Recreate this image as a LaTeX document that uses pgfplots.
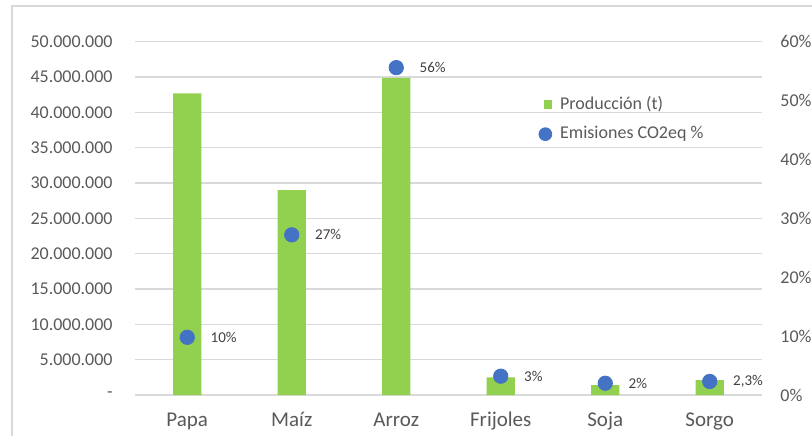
\documentclass[border=0pt]{standalone}
\usepackage{fontspec}
\setmainfont{Carlito}
\usepackage{pgfplots}
\pgfplotsset{compat=1.18}
\definecolor{barg}{HTML}{92D050}
\definecolor{dotb}{HTML}{4472C4}
\definecolor{gridc}{HTML}{D9D9D9}
\definecolor{tickc}{HTML}{595959}
\definecolor{lblc}{HTML}{404040}
\begin{document}
\begin{tikzpicture}
\path[use as bounding box] (0,0) rectangle (406pt,217.5pt);
\draw[gridc, line width=0.6pt] (6pt,-1pt) -- (6pt,214.5pt) -- (407pt,214.5pt);
\begin{axis}[
  at={(67.5pt,20pt)}, anchor=south west, scale only axis,
  width=313.5pt, height=176.65pt,
  xmin=-0.5, xmax=5.5, ymin=0, ymax=50,
  xtick={0,1,2,3,4,5},
  xticklabels={Papa,Maíz,Arroz,Frijoles,Soja,Sorgo},
  ytick={0,5,10,15,20,25,30,35,40,45,50},
  yticklabels={-,5.000.000,10.000.000,15.000.000,20.000.000,25.000.000,30.000.000,35.000.000,40.000.000,45.000.000,50.000.000},
  axis line style={draw=none}, tick style={draw=none},
  ymajorgrids, grid style={gridc, line width=0.6pt},
  xticklabel style={anchor=north, text height=7.3pt, text depth=2pt, yshift=-4.2pt, inner sep=0pt, font=\fontsize{10.5}{12}\selectfont, text=tickc},
  yticklabel style={anchor=east, inner sep=0pt, xshift=-11pt, font=\fontsize{9}{11}\selectfont, text=tickc},
  ybar, bar width=14.2pt,
]
\addplot[fill=barg, draw=none] coordinates {(0,42.7) (1,29.0) (2,44.9) (3,2.5) (4,1.4) (5,2.1)};
\end{axis}
\begin{axis}[
  at={(67.5pt,20pt)}, anchor=south west, scale only axis,
  width=313.5pt, height=176.65pt,
  xmin=-0.5, xmax=5.5, ymin=0, ymax=60,
  axis x line=none, axis y line*=right,
  ytick={0,10,20,30,40,50,60},
  yticklabels={0\%,10\%,20\%,30\%,40\%,50\%,60\%},
  axis line style={draw=none}, tick style={draw=none},
  yticklabel style={anchor=west, inner sep=0pt, xshift=9pt, font=\fontsize{9}{11}\selectfont, text=tickc},
  legend style={draw=none, fill=none, at={(0.643,0.858)}, anchor=north west, inner sep=0pt,
    font=\fontsize{9}{11}\selectfont, text=tickc, row sep=3pt,
    /tikz/every odd column/.append style={column sep=2pt}},
  legend cell align=left,
]
\addlegendimage{legend image code/.code={\fill[barg] (2.5pt,-2pt) rectangle (6pt,2pt);}}
\addlegendentry{Producción (t)}
\addplot[only marks, mark=*, mark size=3.6pt, mark options={fill=dotb, draw=dotb},
  nodes near coords, point meta=explicit symbolic,
  nodes near coords style={anchor=west, xshift=11.5pt, inner sep=0pt, font=\fontsize{7.5}{9}\selectfont, text=lblc},
  legend image code/.code={\fill[dotb] (3pt,0pt) circle (3.2pt);}]
  coordinates {(0,9.8) [10\%] (1,27.2) [27\%] (2,55.6) [56\%] (3,3.2) [3\%] (4,2.0) [2\%] (5,2.3) [{2,3\%}]};
\addlegendentry{Emisiones CO2eq \%}
\end{axis}
\end{tikzpicture}
\end{document}
